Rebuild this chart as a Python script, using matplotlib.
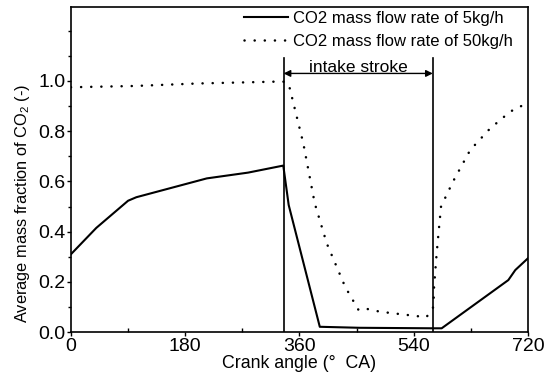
import matplotlib
matplotlib.use("Agg")
import matplotlib.pyplot as plt
from matplotlib.ticker import MultipleLocator

plt.rcParams['font.family'] = ['Liberation Sans', 'DejaVu Sans']
plt.rcParams['mathtext.default'] = 'regular'
plt.rcParams['font.size'] = 12

# CO2 mass flow rate 5 kg/h
x5 = [0, 40, 90, 103, 214, 279, 334.5, 343, 392, 455, 571, 584, 689, 700, 720]
y5 = [0.31, 0.415, 0.523, 0.537, 0.612, 0.635, 0.663, 0.506, 0.021, 0.017, 0.015, 0.015, 0.207, 0.247, 0.294]

# CO2 mass flow rate 50 kg/h
x50 = [0, 100, 200, 334, 343, 366, 384, 403, 432, 453, 463, 487, 560, 571, 572, 576, 579, 583, 602, 629, 660, 692, 718, 720]
y50 = [0.975, 0.98, 0.99, 0.998, 0.988, 0.752, 0.513, 0.353, 0.18, 0.088, 0.094, 0.081, 0.059, 0.1, 0.18, 0.31, 0.393, 0.5, 0.6, 0.725, 0.81, 0.878, 0.911, 0.913]

intake_start = 335
intake_end = 570

fig = plt.figure(figsize=(5.5, 3.83), dpi=100)
ax = fig.add_axes([0.129, 0.133, 0.831, 0.849])

ax.plot(x5, y5, color='black', lw=1.5, label='CO2 mass flow rate of 5kg/h')
ax.plot(x50, y50, color='black', lw=1.8, linestyle=(0, (0.05, 4.0)), dash_capstyle='round',
        label='CO2 mass flow rate of 50kg/h')

ax.plot([intake_start, intake_start], [0, 1.09], color='black', lw=1.2)
ax.plot([intake_end, intake_end], [0, 1.09], color='black', lw=1.2)
ax.annotate('', xy=(intake_start, 1.03), xytext=(intake_end, 1.03),
            arrowprops=dict(arrowstyle='<|-|>', color='black', lw=1.0,
                            mutation_scale=10, shrinkA=0, shrinkB=0))
ax.text((intake_start + intake_end) / 2, 1.022, 'intake stroke', ha='center', va='bottom', fontsize=12.5)

ax.set_xlim(0, 720)
ax.set_ylim(0, 1.295)
ax.set_xticks([0, 180, 360, 540, 720])
ax.set_yticks([0.0, 0.2, 0.4, 0.6, 0.8, 1.0])
ax.set_yticklabels(['0.0', '0.2', '0.4', '0.6', '0.8', '1.0'])
ax.xaxis.set_minor_locator(MultipleLocator(90))
ax.yaxis.set_minor_locator(MultipleLocator(0.1))
ax.tick_params(axis='both', which='major', labelsize=14)
ax.tick_params(axis='x', which='major', direction='out', length=3, width=1, pad=1)
ax.tick_params(axis='x', which='minor', direction='in', length=3, width=1)
ax.tick_params(axis='y', which='major', direction='out', length=3, width=1, pad=1)
ax.tick_params(axis='y', which='minor', direction='out', length=2, width=1)
for s in ax.spines.values():
    s.set_linewidth(1.2)

ax.set_xlabel('Crank angle (°  CA)', labelpad=0, fontsize=12.8)
ax.set_ylabel('Average mass fraction of CO$_2$ (-)', fontsize=11.8)
ax.yaxis.set_label_coords(-0.085, 0.395)

ax.legend(loc='upper right', bbox_to_anchor=(0.975, 1.0), frameon=False,
          handlelength=2.6, handletextpad=0.3,
          borderaxespad=0.0, borderpad=0.25, labelspacing=0.45, fontsize=12)

fig.savefig('out.png', dpi=100)
